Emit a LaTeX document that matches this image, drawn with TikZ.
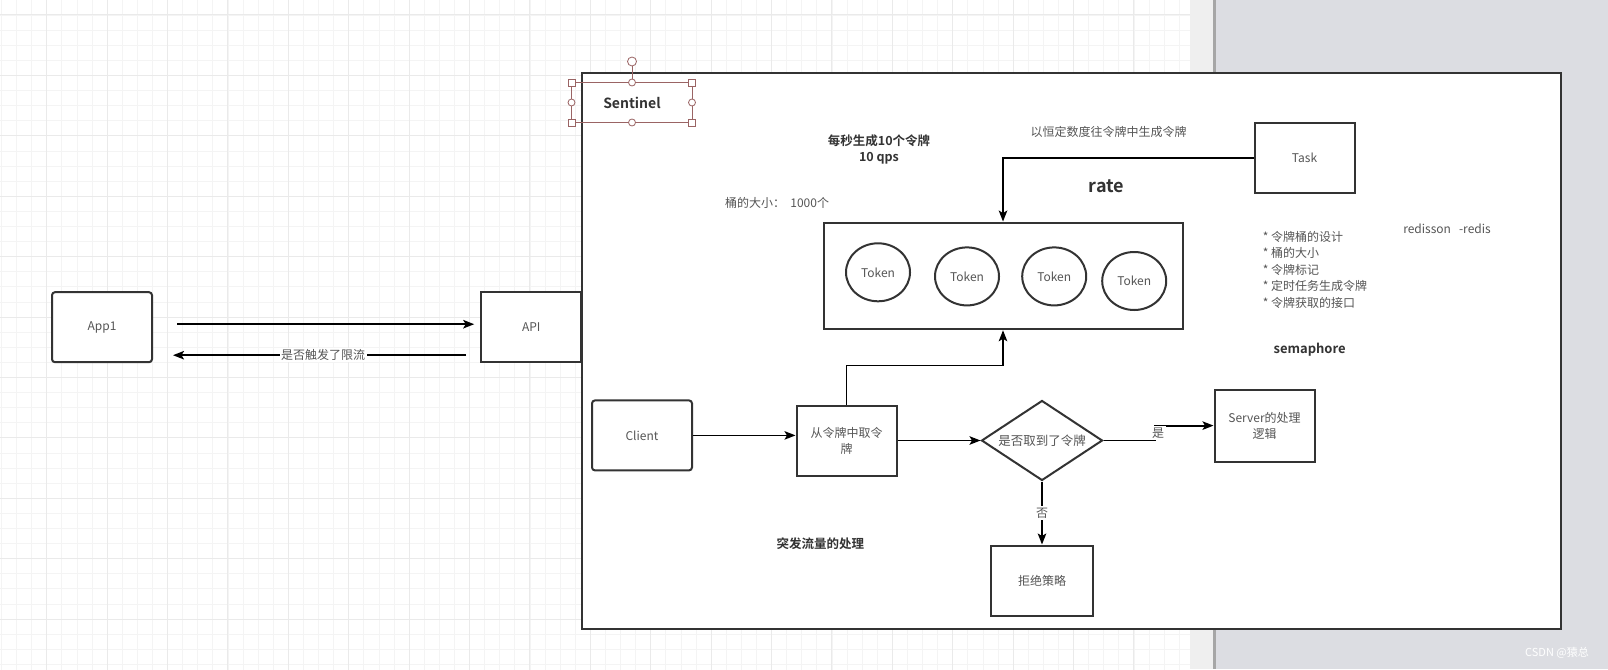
\documentclass[tikz,border=0pt]{standalone}
\usepackage{fontspec}
\setmainfont{Noto Sans CJK SC}[BoldFont={Noto Sans CJK SC Bold}]
\usetikzlibrary{arrows.meta,shapes.geometric,positioning}
\definecolor{edge}{HTML}{333333}
\definecolor{txt}{HTML}{555555}
\definecolor{gridmin}{HTML}{F4F4F4}
\definecolor{gridmaj}{HTML}{EAEAEA}
\definecolor{canvasgray}{HTML}{DCDDE2}
\definecolor{strip}{HTML}{EFEFEF}
\definecolor{handle}{HTML}{9A6464}

\begin{document}
\begin{tikzpicture}[x=1pt,y=-1pt,->,>={Stealth[length=11pt,width=8.5pt,inset=2.5pt]},line width=1.8pt,
  box/.style={draw=edge,fill=white,line width=2pt,minimum width=100pt,minimum height=70pt,inner sep=0pt,
    text=txt,align=center,font=\fontsize{12}{16}\selectfont},
  rbox/.style={box,rounded corners=3pt},
  token/.style={ellipse,draw=edge,line width=2pt,minimum width=64pt,minimum height=58pt,inner sep=0pt,
    text=txt,font=\fontsize{12}{16}\selectfont},
  dia/.style={diamond,aspect=1.5,draw=edge,fill=white,line width=2pt,minimum width=121pt,minimum height=80pt,
    inner sep=0pt,text=txt,font=\fontsize{12.5}{16}\selectfont},
  lbl/.style={text=txt,inner sep=1.5pt,font=\fontsize{12}{16}\selectfont},
  bold/.style={text=edge,inner sep=0pt,align=center,font=\bfseries\fontsize{12.5}{16}\selectfont},
  hsq/.style={draw=handle,fill=white,line width=0.8pt,minimum size=7pt,inner sep=0pt},
  hci/.style={circle,draw=handle,fill=white,line width=0.8pt,minimum size=7pt,inner sep=0pt}]
  \useasboundingbox (0,0) rectangle (1608,669);

  \begin{scope}[-]
    \fill[white] (0,0) rectangle (1190,669);
    \begin{scope}
      \clip (0,0) rectangle (1190,669);
      \draw[gridmin,line width=1pt,shift={(1.5pt,0pt)},step=15.1pt] (-20,690) grid (1210,-20);
      \draw[gridmaj,line width=1pt,shift={(46.7pt,-15pt)},step=60.4pt] (-70,700) grid (1210,-70);
    \end{scope}
    \fill[strip] (1190,0) rectangle (1213,669);
    \fill[canvasgray] (1213,0) rectangle (1608,669);
    \fill[gray!70] (1213,0) rectangle (1216,669);
    \draw[edge,line width=2pt,fill=white] (581.5,72.5) rectangle (1561,629);
  \end{scope}

  \node [rbox] (0) at (102,327.2) {App1};
  \node [box] (1) at (531.2,327.2) {API};
  \node [rbox] (2) at (642,435.4) {Client};
  \node [box] (3) at (846.5,440.5) {从令牌中取令\\牌};
  \node [box,minimum width=359pt,minimum height=106.7pt] (4) at (1003,275.9) {};
  \node [box] (5) at (1304.5,158) {Task};
  \node [dia] (6) at (1042,440.5) {是否取到了令牌};
  \node [box,minimum height=71.8pt] (7) at (1264.5,425.6) {Server的处理\\逻辑};
  \node [box,minimum width=102.6pt] (8) at (1042,580.5) {拒绝策略};

  \node [token] (t1) at (878,272.3) {Token};
  \node [token] (t2) at (967,276.4) {Token};
  \node [token] (t3) at (1054.2,276.4) {Token};
  \node [token] (t4) at (1134.2,281) {Token};

  \draw[-,handle,line width=0.8pt] (571.5,82.5) rectangle (692,122.5);
  \draw[-,handle,line width=0.8pt] (632,82.5) -- (632,66);
  \node [hci,minimum size=9pt] (rot) at (632,61.5) {};
  \node [hsq] (h1) at (571.5,82.5) {};
  \node [hsq] (h2) at (692,82.5) {};
  \node [hsq] (h3) at (571.5,122.5) {};
  \node [hsq] (h4) at (692,122.5) {};
  \node [hci] (h5) at (632,82.5) {};
  \node [hci] (h6) at (632,122.5) {};
  \node [hci] (h7) at (571.5,102.5) {};
  \node [hci] (h8) at (692,102.5) {};
  \node [bold,font=\bfseries\fontsize{14}{16}\selectfont] (sen) at (632,102.5) {Sentinel};

  \node [bold] (qps) at (879,149) {每秒生成10个令牌\\10 qps};
  \node [lbl] (size) at (777,203) {桶的大小：\ \ 1000个};
  \node [lbl] (gen) at (1108.6,132.3) {以恒定数度往令牌中生成令牌};
  \node [bold,font=\bfseries\fontsize{18}{20}\selectfont] (rate) at (1106.5,186.6) {rate};
  \node [lbl,anchor=north west,align=left,inner sep=0pt,font=\fontsize{12}{16.4}\selectfont] (list) at (1262,230.5)
    {* 令牌桶的设计\\* 桶的大小\\* 令牌标记\\* 定时任务生成令牌\\* 令牌获取的接口};
  \node [lbl] (redis) at (1447,228.7) {redisson\ \ \ -redis};
  \node [bold,font=\bfseries\fontsize{13}{16}\selectfont] (sem) at (1309.6,349.7) {semaphore};
  \node [bold] (burst) at (820.4,543.5) {突发流量的处理};
  \node [text=white,font=\fontsize{11}{12}\selectfont] (mark) at (1557,653) {CSDN @猿总};

  \path[->] ([yshift=3pt]0.east) edge [shorten <=24pt,shorten >=6pt] ([yshift=3pt]1.west);
  \path[->] ([yshift=-28pt]1.west) edge [shorten <=14pt,shorten >=20pt] node[lbl,fill=white,pos=0.48] {是否触发了限流} ([yshift=-28pt]0.east);

  \path[->] (2.east) edge (2.east -| 3.west);
  \path[->] (3.east) edge (6.west);
  \draw[->] (3.north) -- ++(0,-39) -| (4.south);
  \draw[->] (5.west) -| (4.north);

  \coordinate (yes) at (1155,440.5);
  \draw[->] (6.east) -- (yes) |- (7.west);
  \node [lbl,fill=white] (ylbl) at (1158,433) {是};
  \path[->] (6.south) edge node[lbl,fill=white] {否} (8.north);

\end{tikzpicture}
\end{document}
